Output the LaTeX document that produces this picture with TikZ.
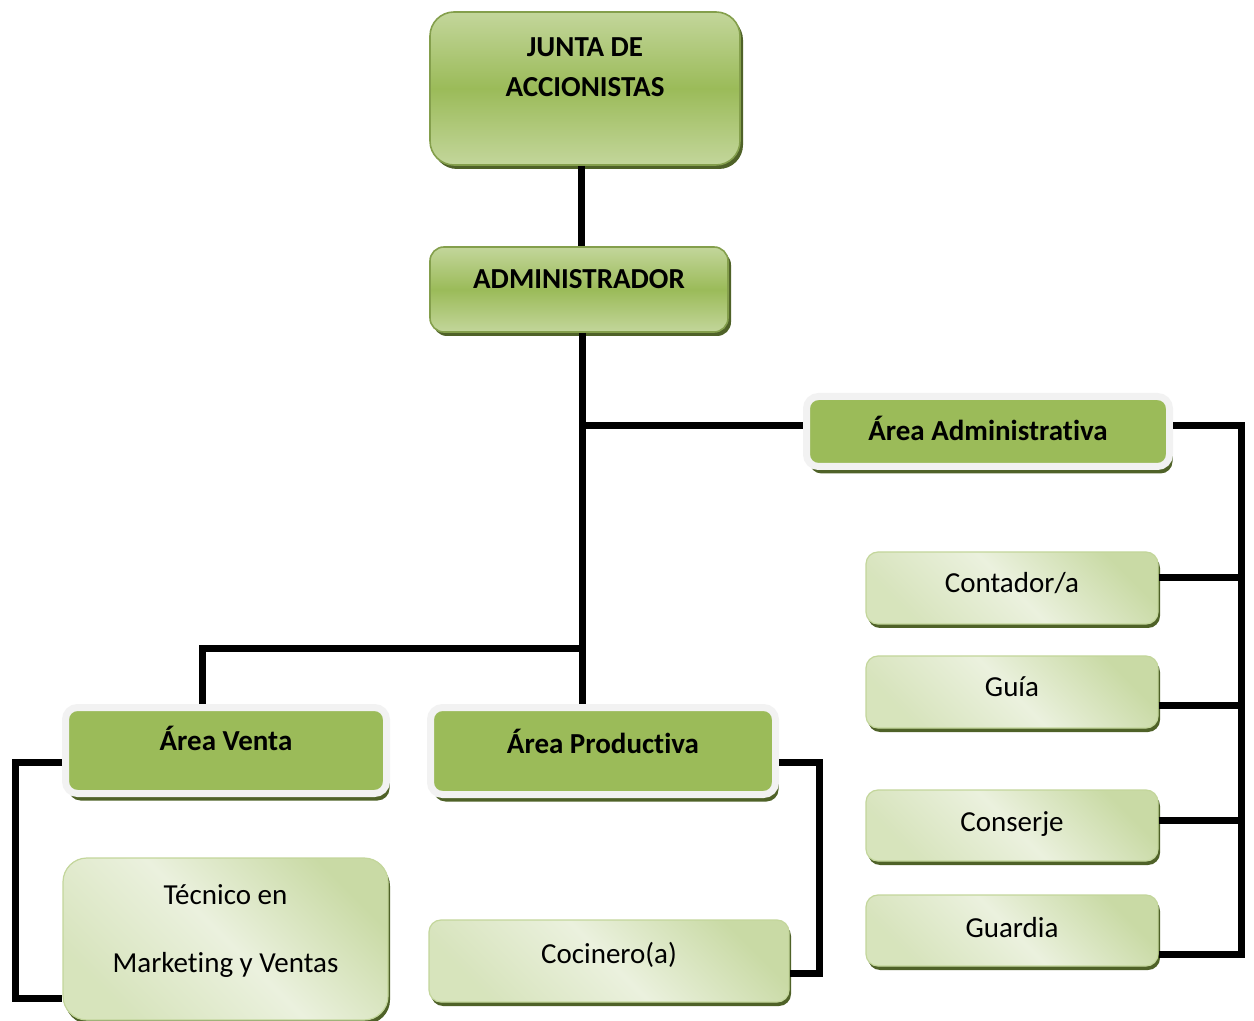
\documentclass[tikz,border=0pt]{standalone}
\usepackage{fontspec}
\setmainfont{Carlito}[Ligatures=NoCommon]
\usepackage{tikz}
\usetikzlibrary{shadows}

\definecolor{verde}{HTML}{9BBB59}
\definecolor{verdeclaro}{HTML}{C3D69B}
\definecolor{verdepalido}{HTML}{EBF1DE}
\definecolor{verdeosc}{HTML}{4F6228}
\definecolor{gris}{HTML}{F2F2F2}

\begin{document}
\begin{tikzpicture}[x=0.5pt, y=-0.5pt,
  font=\fontsize{14.5}{17.4}\selectfont,
  jefe/.style={rounded corners=#1, draw=verde!85!black, line width=0.8pt,
    top color=verdeclaro, bottom color=verdeclaro, middle color=verde,
    drop shadow={shadow xshift=1.5pt, shadow yshift=-2pt, fill=verdeosc, opacity=1},
    font=\fontsize{14.5}{20}\selectfont\bfseries},
  area/.style={rounded corners=6pt, draw=gris, line width=3.5pt, fill=verde,
    drop shadow={shadow xshift=1.5pt, shadow yshift=-3.5pt, fill=verdeosc, opacity=1},
    font=\fontsize{14.5}{17.4}\selectfont\bfseries},
  cargo/.style={rounded corners=6pt, draw=verdeclaro, line width=0.6pt,
    top color=verdeclaro!85!verdepalido, bottom color=verdeclaro!50!verdepalido, middle color=verdepalido,
    shading angle=-45,
    drop shadow={shadow xshift=1pt, shadow yshift=-2pt, fill=verdeosc, opacity=1}},
  subir/.style={text height=9pt, text depth=#1},
  conn/.style={line width=3.5pt, line join=miter}]

\useasboundingbox (0,0) rectangle (1254,1021);

\node[jefe=12pt, minimum width=155pt, minimum height=76.5pt, align=center] (junta) at (585,88.5) {\strut JUNTA DE\\\strut ACCIONISTAS\\\strut};
\node[jefe=7pt, minimum width=149pt, minimum height=42.5pt, subir=9.5pt] (admin) at (579,289.5) {ADMINISTRADOR};

\node[area, minimum width=181.5pt, minimum height=35pt, subir=0pt] (aadm) at (988,431.5) {Área Administrativa};
\node[area, minimum width=160.5pt, minimum height=43pt, subir=9.5pt] (aven) at (226,750.5) {Área Venta};
\node[area, minimum width=172.5pt, minimum height=43.5pt, subir=7pt] (aprod) at (603,751) {Área Productiva};

\node[cargo, rounded corners=12pt, minimum width=162.5pt, minimum height=81pt, align=center] (tec) at (225.5,939) {\strut Técnico en\\[17pt]Marketing y Ventas\rule[-12.6pt]{0pt}{1pt}};
\node[cargo, minimum width=180pt, minimum height=41pt, subir=7pt] (coc) at (609,961) {Cocinero(a)};

\node[cargo, minimum width=146pt, minimum height=36pt, subir=4pt] (cont) at (1012,588) {Contador/a};
\node[cargo, minimum width=146pt, minimum height=36pt, subir=4pt] (guia) at (1012,692) {Guía};
\node[cargo, minimum width=146pt, minimum height=35.5pt, subir=3.5pt] (cons) at (1012,825.5) {Conserje};
\node[cargo, minimum width=146pt, minimum height=35.5pt, subir=2.5pt] (guar) at (1012,930.5) {Guardia};

% lineas
\draw[conn] ([xshift=-2pt]junta.south) -- ([xshift=1pt]admin.north);
\draw[conn] ([xshift=1.5pt]admin.south) -- ([xshift=-10.5pt]aprod.north);

\coordinate (jA) at (582,426);
\coordinate (jV) at (582,649);
\draw[conn] (jA) -- (jA -| aadm.west);
\draw[conn] (jV) -| ([xshift=-12pt]aven.north);

\coordinate (busR) at (1241,954);
\draw[conn] ([yshift=2.75pt]aadm.east) -| (busR) -- (busR -| guar.east);
\foreach \n/\d in {cont/5pt, guia/-6.5pt, cons/2.75pt}
  \draw[conn] ([yshift=\d]\n.east) -- ([yshift=\d]\n.east -| busR);

\coordinate (busV) at (15,998);
\draw[conn] ([yshift=-5.75pt]aven.west) -| (busV) -- (busV -| tec.west);

\coordinate (busP) at (819,973);
\draw[conn] ([yshift=-5.5pt]aprod.east) -| (busP) -- (busP -| coc.east);

\end{tikzpicture}
\end{document}
